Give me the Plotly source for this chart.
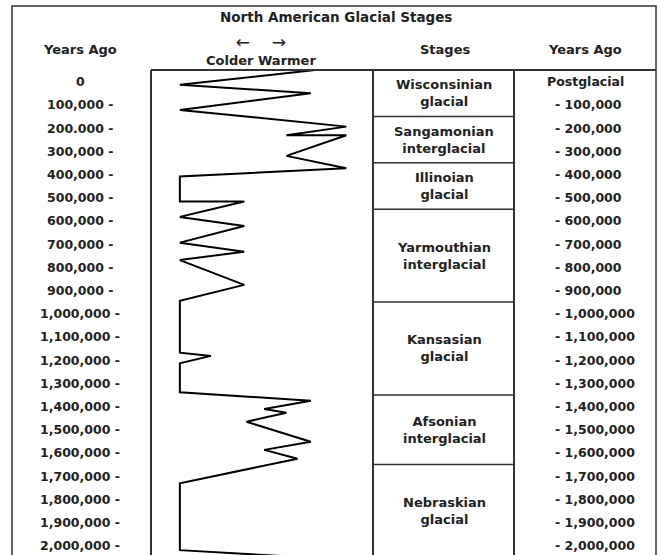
import plotly.graph_objects as go

# ---- data ----
# climate curve: relative temperature (0 = coldest edge, 100 = warmest edge) vs years ago
curve_temp = [74, 13, 72, 13, 88, 61, 88, 61, 88, 13, 13, 42, 13, 42, 13, 42, 13, 42, 13,
              13, 27, 13, 13, 72, 51, 61, 43, 72, 51, 66, 13, 13, 60]
curve_years = [-50000, 14000, 50000, 122000, 194000, 231000, 231000, 320000, 373000, 409000,
               517000, 517000, 583000, 622000, 694000, 733000, 769000, 876000, 944000,
               1168000, 1182000, 1214000, 1339000, 1375000, 1411000, 1427000, 1466000,
               1552000, 1587000, 1625000, 1731000, 2019000, 2045000]

stage_names = ["Wisconsinian<br>glacial", "Sangamonian<br>interglacial", "Illinoian<br>glacial",
               "Yarmouthian<br>interglacial", "Kansasian<br>glacial", "Afsonian<br>interglacial",
               "Nebraskian<br>glacial"]
stage_top = [-50000, 150000, 350000, 550000, 950000, 1350000, 1650000]
stage_bottom = [150000, 350000, 550000, 950000, 1350000, 1650000, 2050000]

tick_years = [0, 100000, 200000, 300000, 400000, 500000, 600000, 700000, 800000, 900000,
              1000000, 1100000, 1200000, 1300000, 1400000, 1500000, 1600000, 1700000,
              1800000, 1900000, 2000000]
left_labels = ["0", "100,000 -", "200.000 -", "300,000 -", "400,000 -", "500,000 -",
               "600,000 -", "700,000 -", "800,000 -", "900,000 -", "1,000,000 -",
               "1,100,000 -", "1,200,000 -", "1,300,000 -", "1,400,000 -", "1,500,000 -",
               "1,600,000 -", "1,700,000 -", "1,800,000 -", "1,900,000 -", "2,000,000 -"]
right_labels = ["Postglacial", "- 100,000", "- 200,000", "- 300,000", "- 400,000", "- 500,000",
                "- 600,000", "- 700,000", "- 800,000", "- 900,000", "- 1,000,000",
                "- 1,100,000", "- 1,200,000", "- 1,300,000", "- 1,400,000", "- 1,500,000",
                "- 1,600,000", "- 1,700,000", "- 1,800,000", "- 1,900,000", "- 2,000,000"]

title_text = "North American Glacial Stages"
axis_header = ("<span style='font-size:17px'>\u2190" + "\u00a0" * 4 + "\u2192</span>"
               "<br><b>Colder Warmer</b>")

# ---- layout helpers (pixel -> paper) ----
W, H = 659, 555
def px(x):
    return x / W
def py(y):
    return 1 - y / H

FONT = "DejaVu Sans"
DARK = "#222222"

fig = go.Figure()
fig.add_trace(go.Scatter(x=curve_temp, y=curve_years, mode="lines",
                         line=dict(color="black", width=2), hoverinfo="skip",
                         showlegend=False))

box_left, box_right, stage_right, outer_left, outer_right = 151, 373, 514, 12, 656
box_top = 70

fig.update_layout(
    width=W, height=H, margin=dict(l=0, r=0, t=0, b=0),
    paper_bgcolor="white", plot_bgcolor="white",
    xaxis=dict(domain=[px(box_left), px(box_right)], range=[0, 100], visible=False,
               fixedrange=True),
    yaxis=dict(domain=[0, py(box_top)], range=[2040000, -50000], visible=False,
               fixedrange=True),
    showlegend=False,
)

shapes = []
# outer frame
shapes.append(dict(type="rect", xref="paper", yref="paper", x0=px(outer_left), x1=px(outer_right),
                   y0=-0.05, y1=py(6), line=dict(color="#333333", width=1.5)))
# top line of table body
shapes.append(dict(type="line", xref="paper", yref="paper", x0=px(box_left), x1=px(outer_right),
                   y0=py(box_top), y1=py(box_top), line=dict(color="#333333", width=2)))
# vertical column lines
for xv in [box_left, box_right, stage_right]:
    shapes.append(dict(type="line", xref="paper", yref="paper", x0=px(xv), x1=px(xv),
                       y0=-0.05, y1=py(box_top), line=dict(color="#333333", width=2)))
# stage boundaries (data coordinates on y)
for yb in stage_bottom[:-1]:
    shapes.append(dict(type="line", xref="paper", yref="y", x0=px(box_right), x1=px(stage_right),
                       y0=yb, y1=yb, line=dict(color="#333333", width=1.5)))
fig.update_layout(shapes=shapes)

ann = []
def text(x, y, s, size=13, xanchor="center", yref="paper", bold=True):
    ann.append(dict(x=x, y=y, xref="paper", yref=yref,
                    text=("<b>%s</b>" % s) if bold else s, showarrow=False,
                    xanchor=xanchor, yanchor="middle",
                    font=dict(family=FONT, size=size, color=DARK)))

text(px(336), py(17), title_text, size=13.5)
text(px(80), py(50), "Years Ago", size=13)
text(px(445), py(50), "Stages", size=13)
text(px(585), py(50), "Years Ago", size=13)
text(px(261), py(50), axis_header, size=13, bold=False)

for name, t, b in zip(stage_names, stage_top, stage_bottom):
    text(px(444), (t + b) / 2, name, size=13, yref="y")

for yv, lab in zip(tick_years, left_labels):
    text(px(80), yv, lab, size=12.5, yref="y")

for yv, lab in zip(tick_years, right_labels):
    if lab.startswith("-"):
        text(px(553), yv, lab, size=12.5, xanchor="left", yref="y")
    else:
        text(px(585), yv, lab, size=12.5, yref="y")

fig.update_layout(annotations=ann)
fig.write_html("out.html", config={"displayModeBar": False},
               post_script="document.body.style.margin='0px';")
